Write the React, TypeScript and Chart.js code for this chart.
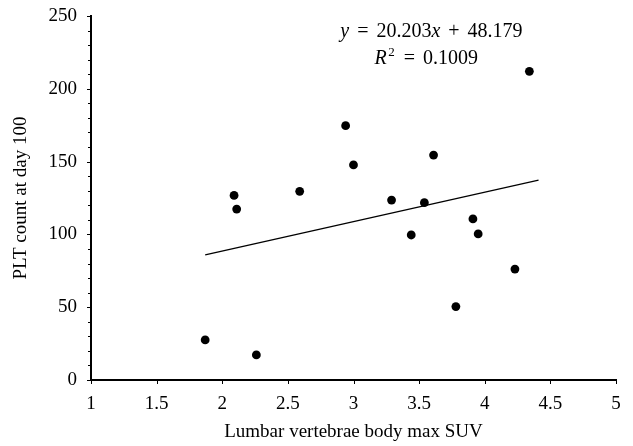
import React, { useEffect, useRef } from "react";
import { Chart, registerables } from "chart.js";

Chart.register(...registerables);

const suvValues = [1.87, 2.09, 2.11, 2.26, 2.59, 2.94, 3.0, 3.29, 3.44, 3.54, 3.61, 3.78, 3.91, 3.95, 4.23, 4.34];
const pltValues = [27.5, 126.8, 117.4, 17.2, 129.6, 174.7, 147.7, 123.6, 99.6, 121.8, 154.5, 50.4, 110.6, 100.3, 76.2, 212.0];

const trendSlope = 20.203;
const trendIntercept = 48.179;
const trendRangeX = [1.87, 4.41];

const xTicks = [1, 1.5, 2, 2.5, 3, 3.5, 4, 4.5, 5];
const yTicks = [0, 50, 100, 150, 200, 250];

const FONT = "'Liberation Serif', 'Times New Roman', serif";

const ticksPlugin = {
  id: "customTicks",
  afterDraw(chart: any) {
    const ctx = chart.ctx;
    const xs = chart.scales.x;
    const ys = chart.scales.y;
    ctx.save();
    ctx.strokeStyle = "#000";
    ctx.lineWidth = 1;
    const axisY = chart.chartArea.bottom;
    const axisX = chart.chartArea.left;
    xTicks.forEach((v) => {
      const px = Math.round(xs.getPixelForValue(v)) + 0.5;
      ctx.beginPath();
      ctx.moveTo(px, axisY);
      ctx.lineTo(px, axisY + 4);
      ctx.stroke();
    });
    for (let v = 0; v <= 250; v += 10) {
      const py = Math.round(ys.getPixelForValue(v)) + 0.5;
      const len = v % 50 === 0 ? 4 : 3;
      ctx.beginPath();
      ctx.moveTo(axisX, py);
      ctx.lineTo(axisX - len, py);
      ctx.stroke();
    }
    // equation
    const drawLine = (segs: any[], cx: number, baseline: number) => {
      const size = 20;
      const fontOf = (s: any) => `${s.i ? "italic " : ""}${s.sup ? 13 : size}px ${FONT}`;
      let total = 0;
      segs.forEach((s) => {
        ctx.font = fontOf(s);
        total += ctx.measureText(s.t).width + (s.gap || 0);
      });
      let x = cx - total / 2;
      ctx.fillStyle = "#000";
      ctx.textBaseline = "alphabetic";
      ctx.textAlign = "left";
      segs.forEach((s) => {
        ctx.font = fontOf(s);
        ctx.fillText(s.t, x, s.sup ? baseline - 8 : baseline);
        x += ctx.measureText(s.t).width + (s.gap || 0);
      });
    };
    drawLine(
      [
        { t: "y", i: true, gap: 8 },
        { t: "=", gap: 8 },
        { t: "20.203" },
        { t: "x", i: true, gap: 8 },
        { t: "+", gap: 8 },
        { t: "48.179" },
      ],
      xs.getPixelForValue(3.594),
      ys.getPixelForValue(235.9)
    );
    drawLine(
      [
        { t: "R", i: true, gap: 1.5 },
        { t: "2", sup: true, gap: 9 },
        { t: "=", gap: 8 },
        { t: "0.1009" },
      ],
      xs.getPixelForValue(3.554),
      ys.getPixelForValue(216.8)
    );
    ctx.restore();
  },
};

export default function App() {
  const ref = useRef<HTMLCanvasElement>(null);
  useEffect(() => {
    if (!ref.current) return;
    const points = suvValues.map((x, i) => ({ x, y: pltValues[i] }));
    const trend = trendRangeX.map((x) => ({ x, y: trendSlope * x + trendIntercept }));
    const chart = new Chart(ref.current, {
      type: "scatter",
      data: {
        datasets: [
          {
            data: points,
            backgroundColor: "#000",
            borderColor: "#000",
            pointRadius: 4.4,
            pointHoverRadius: 4.4,
            borderWidth: 0,
          },
          {
            type: "line",
            data: trend,
            borderColor: "#000",
            borderWidth: 1.3,
            pointRadius: 0,
            showLine: true,
            fill: false,
          } as any,
        ],
      },
      options: {
        animation: false,
        responsive: false,
        events: [],
        layout: { padding: { top: 16, right: 17, left: 0, bottom: 0 } },
        plugins: { legend: { display: false }, tooltip: { enabled: false } },
        scales: {
          x: {
            type: "linear",
            min: 1,
            max: 5,
            afterBuildTicks: (s: any) => {
              s.ticks = xTicks.map((v) => ({ value: v }));
            },
            afterFit: (s: any) => {
              s.height = 66;
              s.paddingLeft = 0;
              s.paddingRight = 0;
            },
            grid: { display: false, drawTicks: false },
            border: { display: true, color: "#000", width: 2 },
            ticks: {
              color: "#000",
              padding: 13,
              maxRotation: 0,
              autoSkip: false,
              font: { family: FONT, size: 19 },
              callback: (v: any) => String(v),
            },
            title: {
              display: true,
              text: "Lumbar vertebrae body max SUV",
              color: "#000",
              font: { family: FONT, size: 19 },
              padding: { top: 0, bottom: 3 },
            },
          },
          y: {
            type: "linear",
            min: 0,
            max: 250,
            afterBuildTicks: (s: any) => {
              s.ticks = yTicks.map((v) => ({ value: v }));
            },
            afterFit: (s: any) => {
              s.width = 91;
              s.paddingTop = 0;
              s.paddingBottom = 0;
            },
            grid: { display: false, drawTicks: false },
            border: { display: true, color: "#000", width: 2 },
            ticks: {
              color: "#000",
              padding: 14,
              autoSkip: false,
              font: { family: FONT, size: 19 },
            },
            title: {
              display: true,
              text: "PLT count at day 100",
              color: "#000",
              font: { family: FONT, size: 19 },
              padding: { top: 10, bottom: 0 },
            },
          },
        },
      },
      plugins: [ticksPlugin],
    });
    return () => chart.destroy();
  }, []);
  return (
    <div style={{ position: "fixed", left: 0, top: 0, width: 633, height: 446, background: "#fff" }}>
      <canvas ref={ref} width={633} height={446} style={{ width: 633, height: 446 }} />
    </div>
  );
}
